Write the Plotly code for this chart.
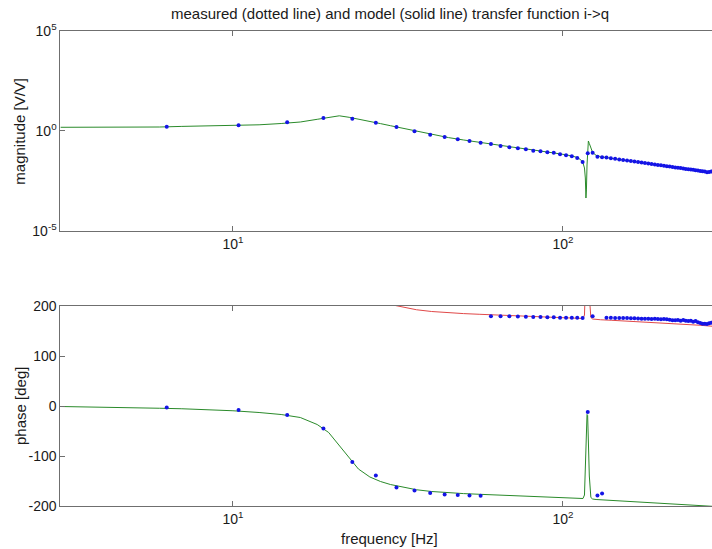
import math
import plotly.graph_objects as go

# Measured frequency grid (Hz)
freq_meas = [6.3, 10.4, 14.6, 18.8, 23.0, 27.1, 31.3, 35.5, 39.6, 43.8, 48.0, 52.1,
             56.3, 60.5, 64.7, 68.8, 73.0, 77.2, 81.3, 85.5, 89.7, 93.8, 98.0, 102.2,
             106.4, 110.5, 114.7, 118.9, 123.0, 127.2, 131.4, 135.5, 139.7, 143.9, 148.1,
             152.2, 156.4, 160.6, 164.7, 168.9, 173.1, 177.2, 181.4, 185.6, 189.8, 193.9,
             198.1, 202.3, 206.4, 210.6, 214.8, 218.9, 223.1, 227.3, 231.5, 235.6, 239.8,
             244.0, 248.1, 252.3, 256.5, 260.6, 264.8, 269.0, 273.2, 277.3, 281.5]

# Measured magnitude (V/V)
mag_meas = [1.58, 1.86, 2.63, 4.32, 3.98, 2.51, 1.53, 0.933, 0.631, 0.484, 0.372, 0.305,
            0.251, 0.216, 0.172, 0.148, 0.132, 0.117, 0.100, 0.0933, 0.0832, 0.0794, 0.0661,
            0.0589, 0.0525, 0.0432, 0.0272, 0.0741, 0.0794, 0.0501, 0.0468, 0.0452, 0.0422,
            0.0394, 0.0367, 0.0343, 0.0324, 0.0302, 0.0285, 0.0269, 0.0254, 0.0240, 0.0226,
            0.0216, 0.0204, 0.0195, 0.0186, 0.0176, 0.0168, 0.0160, 0.0153, 0.0146, 0.0141,
            0.0135, 0.0129, 0.0123, 0.0119, 0.0114, 0.0110, 0.0106, 0.0101, 0.00977, 0.00933,
            0.00902, 0.00832, 0.00861, 0.00912]

# Measured phase (deg), wrapped to (-180, 180]
phase_meas = [-3, -8, -18, -45, -112, -139, -163, -169, -174, -177, -178, -179,
              -179.5, 179.5, 179.5, 179.3, 179.0, 178.7, 178.0, 178.0, 177.3, 177.3, 176.7,
              176.7, 176.5, 176.5, 176.2, -12, 179.5, -179, -175, 176.7, 176.5, 176.0, 176.0,
              175.8, 176.0, 175.3, 175.3, 175.0, 174.7, 174.7, 174.5, 174.0, 174.7, 174.0,
              173.3, 174.0, 173.3, 172.7, 171.3, 171.3, 172.0, 170.7, 172.0, 170.7, 170.0,
              170.7, 168.7, 170.0, 167.3, 166.0, 164.7, 164.7, 164.0, 165.3, 166.7]

# Model frequency response
freq_model = [3.0, 4.0, 5.0, 6.0, 7.0, 8.0, 10.0, 12.0, 14.0, 16.0, 18.0, 19.5, 21.0,
              22.5, 24.0, 26.0, 28.0, 30.0, 33.0, 36.0, 40.0, 45.0, 50.0, 56.0, 63.0, 70.0,
              80.0, 90.0, 100.0, 106.0, 110.0, 113.0, 115.0, 116.2, 116.9, 117.4, 117.8,
              118.3, 118.8, 119.4, 120.2, 121.5, 123.0, 126.0, 130.0, 140.0, 160.0, 180.0,
              200.0, 230.0, 260.0, 290.0]

mag_model = [1.48, 1.48, 1.50, 1.53, 1.64, 1.70, 1.80, 1.97, 2.29, 2.72, 3.71, 4.67, 5.55,
             4.67, 3.84, 2.99, 2.26, 1.78, 1.27, 0.912, 0.638, 0.452, 0.343, 0.254, 0.188,
             0.153, 0.113, 0.0871, 0.0661, 0.0556, 0.0467, 0.0363, 0.0244, 0.0137, 0.00432,
             0.00043, 0.00109, 0.0193, 0.171, 0.306, 0.229, 0.136, 0.0812, 0.0589, 0.0506,
             0.0417, 0.0299, 0.0225, 0.0179, 0.0131, 0.00991, 0.00786]

phase_model = [-1, -2, -3.5, -4.5, -5.5, -6.8, -9.5, -13, -17, -23, -37, -53, -79, -104,
               -126, -142, -151, -157, -163, -167.5, -171, -173.5, -175.2, -176.6, -178,
               -179, -180.5, -182, -183, -183.8, -184.3, -184.7, -185, -178, -130, -95, -45,
               -17, -19, -70, -140, -183, -186, -187, -187.5, -188.5, -190.5, -192, -193.5,
               -196, -198.5, -201]

# Same model phase shifted by one full turn
phase_model_up = [p + 360 for p in phase_model]

# Tick labels
freq_ticks = [10, 100]
freq_tick_text = ["10<sup>1</sup>", "10<sup>2</sup>"]
mag_ticks = [1e-5, 1, 1e5]
mag_tick_text = ["10<sup>-5</sup>", "10<sup>0</sup>", "10<sup>5</sup>"]
phase_ticks = [-200, -100, 0, 100, 200]
phase_tick_text = ["-200", "-100", "0", "100", "200"]

W, H = 712, 549
FONT = "Liberation Sans, Arial, Helvetica, sans-serif"
AXIS_GREY = "#6f6f6f"
GREEN = "#2a8a2a"
RED = "#e04848"
BLUE = "#1414e6"

left_px = 60.4
decade_px = 330.0
x_lo = math.log10(3.0)
x_hi = x_lo + (W - left_px) / decade_px


def ydom(top_px, bot_px):
    return [(H - bot_px) / H, (H - top_px) / H]


fig = go.Figure()

fig.add_trace(go.Scatter(x=freq_model, y=mag_model, mode="lines",
                         line=dict(color=GREEN, width=1), xaxis="x", yaxis="y"))
fig.add_trace(go.Scatter(x=freq_meas, y=mag_meas, mode="markers",
                         marker=dict(color=BLUE, size=4), xaxis="x", yaxis="y"))

fig.add_trace(go.Scatter(x=freq_model, y=phase_model_up, mode="lines",
                         line=dict(color=RED, width=1), xaxis="x2", yaxis="y2"))
fig.add_trace(go.Scatter(x=freq_model, y=phase_model, mode="lines",
                         line=dict(color=GREEN, width=1), xaxis="x2", yaxis="y2"))
fig.add_trace(go.Scatter(x=freq_meas, y=phase_meas, mode="markers",
                         marker=dict(color=BLUE, size=4), xaxis="x2", yaxis="y2"))

xcommon = dict(type="log", range=[x_lo, x_hi], domain=[left_px / W, 1.0],
               tickvals=freq_ticks, ticktext=freq_tick_text,
               ticks="inside", ticklen=5, tickcolor=AXIS_GREY, showline=True,
               linecolor=AXIS_GREY, linewidth=1, mirror="ticks", showgrid=False,
               zeroline=False, tickfont=dict(size=14, color="#1a1a1a", family=FONT))
ycommon = dict(ticks="inside", ticklen=5, tickcolor=AXIS_GREY, showline=True,
               linecolor=AXIS_GREY, linewidth=1, mirror=False, showgrid=False,
               zeroline=False, tickfont=dict(size=14, color="#1a1a1a", family=FONT))

fig.update_layout(
    width=W, height=H,
    margin=dict(l=0, r=0, t=0, b=0, autoexpand=False),
    paper_bgcolor="white", plot_bgcolor="white",
    showlegend=False,
    font=dict(family=FONT, size=14, color="#1a1a1a"),
    xaxis=dict(anchor="y", **xcommon),
    yaxis=dict(anchor="x", type="log", domain=ydom(30.7, 230.7), range=[-5, 5],
               tickvals=mag_ticks, ticktext=mag_tick_text, **ycommon),
    xaxis2=dict(anchor="y2", **xcommon),
    yaxis2=dict(anchor="x2", domain=ydom(306, 506), range=[-200, 200],
                tickvals=phase_ticks, ticktext=phase_tick_text, **ycommon),
    annotations=[
        dict(text="measured (dotted line) and model (solid line) transfer function i->q",
             x=390 / W, y=(H - 14) / H, xref="paper", yref="paper",
             showarrow=False, font=dict(size=15), xanchor="center", yanchor="middle"),
        dict(text="magnitude [V/V]", x=20 / W, y=(H - 131.7) / H, xref="paper",
             yref="paper", showarrow=False, textangle=-90, font=dict(size=15),
             xanchor="center", yanchor="middle"),
        dict(text="phase [deg]", x=20 / W, y=(H - 406) / H, xref="paper",
             yref="paper", showarrow=False, textangle=-90, font=dict(size=15),
             xanchor="center", yanchor="middle"),
        dict(text="frequency [Hz]", x=389 / W, y=(H - 538) / H, xref="paper",
             yref="paper", showarrow=False, font=dict(size=15),
             xanchor="center", yanchor="middle"),
    ],
)

fig.write_html("out.html")
